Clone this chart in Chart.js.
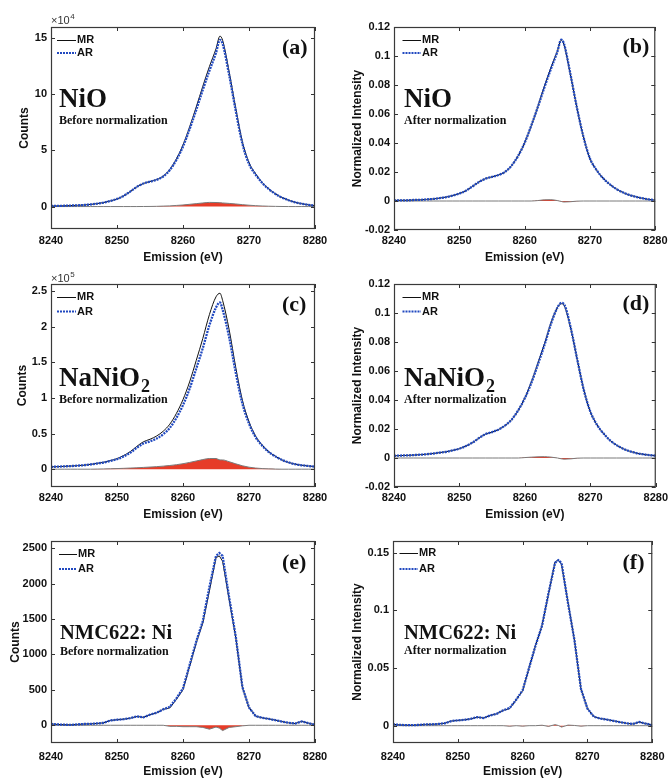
<!DOCTYPE html>
<html><head><meta charset="utf-8">
<script src="https://cdn.jsdelivr.net/npm/chart.js@4.4.1/dist/chart.umd.min.js"></script>
<style>
html,body{margin:0;padding:0;background:#fff;}
#wrap{position:relative;width:672px;height:778px;overflow:hidden;background:#fff;}
canvas{position:absolute;display:block;}
</style></head><body><div id="wrap">
<canvas id="pa" width="336" height="266" style="left:0;top:0"></canvas>
<canvas id="pb" width="336" height="266" style="left:336px;top:0"></canvas>
<canvas id="pc" width="336" height="256" style="left:0;top:266px"></canvas>
<canvas id="pd" width="336" height="256" style="left:336px;top:266px"></canvas>
<canvas id="pe" width="336" height="256" style="left:0;top:522px"></canvas>
<canvas id="pf" width="336" height="256" style="left:336px;top:522px"></canvas>
</div>
<script>
// ---------- data ----------
const energyTicks = [8240, 8250, 8260, 8270, 8280];
const energyAD = [8240,8241,8242,8243,8244,8245,8246,8247,8248,8249,8250,8251,8252,8253,8254,8255,8256,8257,8258,8259,8260,8261,8262,8263,8264,8265,8265.6,8266,8267,8268,8269,8270,8271,8272,8273,8274,8275,8276,8277,8278,8279,8280];
const energyEF = [8240,8241,8242,8243,8244,8245,8246,8247,8248,8249,8250,8251,8252,8253,8254,8255,8256,8257,8258,8259,8260,8261,8262,8263,8264,8265,8265.5,8266,8267,8268,8269,8270,8271,8272,8273,8274,8275,8276,8277,8278,8279,8280];

// (a) NiO, counts x1e4
const nioMR = [0.05,0.06,0.07,0.09,0.11,0.14,0.19,0.26,0.36,0.5,0.68,0.95,1.33,1.75,2.06,2.23,2.4,2.72,3.31,4.25,5.49,7.1,8.86,10.72,12.47,14.06,15.19,14.82,11.98,8.73,5.77,3.92,2.93,2.15,1.58,1.14,0.81,0.56,0.38,0.25,0.15,0.08];
const nioAR = [0.05,0.06,0.07,0.09,0.11,0.14,0.19,0.26,0.36,0.5,0.68,0.95,1.33,1.75,2.05,2.22,2.38,2.68,3.25,4.15,5.35,6.9,8.6,10.4,12.1,13.7,14.85,14.5,11.7,8.5,5.6,3.8,2.85,2.1,1.55,1.12,0.8,0.56,0.38,0.25,0.15,0.08];
const nioDiff = [0,0,0,0,0,0,0,0,0,0,0,0,0,0,0.005,0.01,0.02,0.04,0.06,0.1,0.14,0.2,0.26,0.32,0.37,0.36,0.34,0.32,0.28,0.23,0.17,0.12,0.08,0.05,0.03,0.015,0.005,0,0,0,0,0];
// (b) NiO normalized
const nioNormMR = [0.0004,0.0005,0.0005,0.0007,0.0008,0.0011,0.0014,0.002,0.0027,0.0038,0.0051,0.0071,0.01,0.0131,0.0154,0.0167,0.0179,0.0201,0.0244,0.0311,0.0401,0.0518,0.0648,0.0788,0.0917,0.1031,0.1109,0.1081,0.0873,0.0644,0.0443,0.0293,0.0214,0.0158,0.0116,0.0084,0.006,0.0042,0.0029,0.0019,0.0011,0.0006];
const nioNormAR = [0.0004,0.0005,0.0005,0.0007,0.0008,0.0011,0.0014,0.002,0.0027,0.0038,0.0051,0.0071,0.01,0.0131,0.0154,0.0167,0.0179,0.0201,0.0244,0.0311,0.0401,0.0518,0.0645,0.078,0.0908,0.1028,0.1112,0.1088,0.0878,0.0645,0.0443,0.0293,0.0214,0.0158,0.0116,0.0084,0.006,0.0042,0.0029,0.0019,0.0011,0.0006];
const nioNormDiff = [0,0,0,0,0,0,0,0,0,0,0,0,0,0,0,0,0,0,0,0,0,0,0.0003,0.0008,0.0009,0.0003,-0.0003,-0.0007,-0.0005,-0.0001,0,0,0,0,0,0,0,0,0,0,0,0];
// (c) NaNiO2, counts x1e5
const nanioMR = [0.033,0.036,0.04,0.044,0.05,0.056,0.067,0.082,0.098,0.121,0.149,0.192,0.246,0.32,0.385,0.42,0.466,0.533,0.632,0.783,0.977,1.225,1.525,1.835,2.17,2.42,2.47,2.37,1.955,1.425,0.968,0.668,0.466,0.339,0.245,0.182,0.13,0.095,0.07,0.055,0.045,0.036];
const nanioAR = [0.033,0.036,0.04,0.044,0.05,0.056,0.067,0.08,0.094,0.115,0.14,0.18,0.23,0.3,0.36,0.39,0.43,0.49,0.58,0.72,0.9,1.13,1.41,1.7,2.02,2.27,2.34,2.24,1.85,1.35,0.92,0.64,0.45,0.33,0.24,0.18,0.13,0.095,0.07,0.055,0.045,0.036];
const nanioDiff = [0,0,0,0,0,0,0,0.002,0.004,0.006,0.009,0.012,0.016,0.02,0.025,0.03,0.036,0.043,0.052,0.063,0.077,0.095,0.115,0.135,0.15,0.15,0.13,0.13,0.105,0.075,0.048,0.028,0.016,0.009,0.005,0.002,0,0,0,0,0,0];
// (d) NaNiO2 normalized
const nanioNormMR = [0.0015,0.0017,0.0018,0.002,0.0023,0.0026,0.0031,0.0037,0.0043,0.0053,0.0064,0.0083,0.0106,0.0138,0.0165,0.0179,0.0197,0.0225,0.0266,0.033,0.0416,0.0525,0.0655,0.0789,0.0933,0.104,0.1064,0.1052,0.0894,0.0679,0.047,0.032,0.023,0.017,0.0122,0.0089,0.0064,0.0047,0.0034,0.0026,0.002,0.0016];
const nanioNormAR = [0.0015,0.0017,0.0018,0.002,0.0023,0.0026,0.0031,0.0037,0.0043,0.0053,0.0064,0.0083,0.0106,0.0138,0.0165,0.0179,0.0197,0.0225,0.0266,0.033,0.0413,0.0519,0.0647,0.078,0.0927,0.104,0.107,0.106,0.09,0.068,0.047,0.032,0.023,0.017,0.0122,0.0089,0.0064,0.0047,0.0034,0.0026,0.002,0.0016];
const nanioNormDiff = [0,0,0,0,0,0,0,0,0,0,0,0,0,0,0,0,0,0,0,0,0.0003,0.0006,0.0008,0.0009,0.0006,0,-0.0006,-0.0008,-0.0006,-0.0001,0,0,0,0,0,0,0,0,0,0,0,0];
// (e) NMC622 Ni, counts
const nmcMR = [20,12,8,6,12,18,20,26,35,68,78,86,100,125,112,150,175,225,245,365,500,830,1160,1440,1895,2365,2390,2315,1770,1230,532,250,130,105,90,72,52,35,25,55,30,8];
const nmcAR = [20,12,8,6,12,18,20,26,35,68,78,86,100,125,112,150,175,225,260,380,520,850,1180,1470,1950,2390,2430,2390,1800,1250,540,250,130,105,90,72,52,35,25,55,30,8];
const nmcDiff = [0,0,0,0,0,0,0,0,0,0,0,0,0,0,0,0,0,0,-15,-15,-20,-20,-20,-30,-55,-25,-40,-75,-30,-20,-8,0,0,0,0,0,0,0,0,0,0,0];
// (f) NMC622 Ni normalized
const nmcNormMR = [0.0012,0.0007,0.0005,0.0004,0.0007,0.0011,0.0012,0.0015,0.0021,0.004,0.0046,0.0051,0.0059,0.0074,0.0066,0.0089,0.0103,0.0133,0.0148,0.0224,0.0303,0.0502,0.0696,0.0871,0.1144,0.1419,0.1436,0.1398,0.1067,0.074,0.0315,0.0148,0.0077,0.0062,0.0053,0.0042,0.0031,0.0021,0.0015,0.0032,0.0018,0.0005];
const nmcNormAR = [0.0012,0.0007,0.0005,0.0004,0.0007,0.0011,0.0012,0.0015,0.0021,0.004,0.0046,0.0051,0.0059,0.0074,0.0066,0.0089,0.0103,0.0133,0.0153,0.0224,0.0307,0.0502,0.0696,0.0867,0.115,0.141,0.1434,0.141,0.1062,0.0738,0.0319,0.0148,0.0077,0.0062,0.0053,0.0042,0.0031,0.0021,0.0015,0.0032,0.0018,0.0005];
const nmcNormDiff = [0,0,0,0,0,0,0,0,0,0,0,0,0,0,0,0,0,0,-0.0005,0,-0.0004,0,0,0.0004,-0.0006,0.0009,0.0002,-0.0012,0.0005,0.0002,-0.0004,0,0,0,0,0,0,0,0,0,0,0];

const ticksA = [0, 5, 10, 15];
const ticksB = [-0.02, 0, 0.02, 0.04, 0.06, 0.08, 0.1, 0.12];
const ticksC = [0, 0.5, 1, 1.5, 2, 2.5];
const ticksD = [-0.02, 0, 0.02, 0.04, 0.06, 0.08, 0.1, 0.12];
const ticksE = [0, 500, 1000, 1500, 2000, 2500];
const ticksF = [0, 0.05, 0.1, 0.15];

// ---------- style ----------
const SANS = '"Liberation Sans", Arial, sans-serif';
const SERIF = '"Liberation Serif", "Times New Roman", serif';
const BLUE = '#2149c0';
const RED = '#e63c28';
const INK = '#111';

const panelDecor = {
  id: 'panelDecor',
  afterDraw(chart, args, o) {
    const ctx = chart.ctx, ca = chart.chartArea;
    const xs = chart.scales.x, ys = chart.scales.y;
    ctx.save();
    ctx.strokeStyle = '#333'; ctx.lineWidth = 1;
    ctx.beginPath();
    const L = 4;
    xs.ticks.forEach(t => {
      const px = Math.round(xs.getPixelForValue(t.value)) + 0.5;
      ctx.moveTo(px, ca.bottom); ctx.lineTo(px, ca.bottom - L);
      ctx.moveTo(px, ca.top); ctx.lineTo(px, ca.top + L);
    });
    ys.ticks.forEach(t => {
      const py = Math.round(ys.getPixelForValue(t.value)) + 0.5;
      ctx.moveTo(ca.left, py); ctx.lineTo(ca.left + L, py);
      ctx.moveTo(ca.right, py); ctx.lineTo(ca.right - L, py);
    });
    ctx.stroke();
    ctx.strokeStyle = '#3a3a3a'; ctx.lineWidth = 1.2;
    ctx.strokeRect(ca.left + 0.5, ca.top + 0.5, ca.right - ca.left - 1, ca.bottom - ca.top - 1);
    // legend
    const lg = o.legend;
    ctx.lineWidth = 1; ctx.strokeStyle = INK; ctx.setLineDash([]);
    const ym = Math.round(lg.yMR) + 0.5;
    ctx.beginPath(); ctx.moveTo(lg.x1, ym); ctx.lineTo(lg.x2, ym); ctx.stroke();
    ctx.lineWidth = 2.2; ctx.strokeStyle = BLUE; ctx.setLineDash([2, 1]);
    ctx.beginPath(); ctx.moveTo(lg.x1, lg.yAR); ctx.lineTo(lg.x2, lg.yAR); ctx.stroke();
    ctx.setLineDash([]);
    ctx.fillStyle = INK; ctx.font = 'bold 11px ' + SANS; ctx.textBaseline = 'middle'; ctx.textAlign = 'left';
    ctx.fillText('MR', lg.x2 + 1, lg.yMR);
    ctx.fillText('AR', lg.x2 + 1, lg.yAR);
    // panel letter
    ctx.font = 'bold 22px ' + SERIF; ctx.textBaseline = 'middle';
    ctx.fillText(o.letter.text, o.letter.x, o.letter.y);
    // sample name
    ctx.textBaseline = 'alphabetic';
    ctx.font = 'bold ' + o.name.size + 'px ' + SERIF;
    ctx.fillText(o.name.text, o.name.x, o.name.y);
    if (o.name.sub) {
      const w = ctx.measureText(o.name.text).width;
      ctx.font = 'bold ' + Math.round(o.name.size * 0.66) + 'px ' + SERIF;
      ctx.fillText(o.name.sub, o.name.x + w + 1, o.name.y + 6);
    }
    ctx.font = 'bold 12px ' + SERIF;
    ctx.fillText(o.caption.text, o.caption.x, o.caption.y);
    if (o.exp) {
      ctx.font = '11px ' + SANS; ctx.fillStyle = '#333';
      ctx.fillText('\u00d710', o.exp.x, o.exp.y);
      const w = ctx.measureText('\u00d710').width;
      ctx.font = '8px ' + SANS;
      ctx.fillText(o.exp.pow, o.exp.x + w + 0.5, o.exp.y - 5);
    }
    ctx.restore();
  }
};

function makePanel(id, p) {
  const cv = document.getElementById(id);
  const W = cv.width, H = cv.height;
  const pts = arr => p.x.map((xv, i) => ({ x: xv, y: arr[i] }));
  const lineOpts = p.smooth ? { cubicInterpolationMode: 'monotone' } : { tension: 0 };
  return new Chart(cv, {
    type: 'line',
    data: { datasets: [
      Object.assign({ label: 'AR', data: pts(p.ar), borderColor: BLUE, borderWidth: 2.3, borderDash: [2, 1], pointRadius: 0, fill: false }, lineOpts),
      Object.assign({ label: 'MR', data: pts(p.mr), borderColor: INK, borderWidth: 1, pointRadius: 0, fill: false }, lineOpts),
      Object.assign({ label: 'MR-AR', data: pts(p.diff), borderColor: '#7a7a7a', borderWidth: 1, backgroundColor: RED, fill: 'origin', pointRadius: 0 }, lineOpts)
    ]},
    options: {
      responsive: false, animation: false, events: [],
      layout: { padding: { top: p.area.top, right: W - p.area.right, left: 0, bottom: 0 } },
      plugins: { legend: { display: false }, tooltip: { enabled: false }, panelDecor: p.decor },
      scales: {
        x: {
          type: 'linear', min: 8240, max: 8280,
          afterBuildTicks: s => { s.ticks = energyTicks.map(v => ({ value: v })); },
          afterFit: s => { s.height = H - p.area.bottom; },
          grid: { display: false, drawTicks: false }, border: { display: false },
          ticks: { padding: p.xLabelPad, color: INK, autoSkip: false, maxRotation: 0, font: { family: SANS, size: 11, weight: 'bold' }, callback: v => String(v) },
          title: { display: true, text: 'Emission (eV)', color: INK, font: { family: SANS, size: 12, weight: 'bold', lineHeight: 1 }, padding: { top: 0, bottom: p.xTitlePad } }
        },
        y: {
          type: 'linear', min: p.yMin, max: p.yMax,
          afterBuildTicks: s => { s.ticks = p.yTicks.map(v => ({ value: v })); },
          afterFit: s => { s.width = p.area.left; },
          grid: { display: false, drawTicks: false }, border: { display: false },
          ticks: { padding: 4, color: INK, font: { family: SANS, size: 11, weight: 'bold' }, callback: v => String(v) },
          title: { display: true, text: p.yTitle, color: INK, font: { family: SANS, size: 12, weight: 'bold', lineHeight: 1 }, padding: { top: p.yTitlePad, bottom: 0 } }
        }
      }
    },
    plugins: [panelDecor]
  });
}

makePanel('pa', { x: energyAD, mr: nioMR, ar: nioAR, diff: nioDiff, smooth: true,
  yMin: -2, yMax: 16, yTicks: ticksA, yTitle: 'Counts', yTitlePad: 19,
  area: { left: 51, top: 27, right: 315, bottom: 229 }, xLabelPad: 5, xTitlePad: 2,
  decor: { legend: { x1: 57, x2: 76, yMR: 40, yAR: 53 }, letter: { text: '(a)', x: 282, y: 48 },
    name: { text: 'NiO', x: 59, y: 107, size: 27 }, caption: { text: 'Before normalization', x: 59, y: 124 },
    exp: { x: 51, y: 24, pow: '4' } } });

makePanel('pb', { x: energyAD, mr: nioNormMR, ar: nioNormAR, diff: nioNormDiff, smooth: true,
  yMin: -0.02, yMax: 0.12, yTicks: ticksB, yTitle: 'Normalized Intensity', yTitlePad: 15.5,
  area: { left: 58, top: 27, right: 322, bottom: 230 }, xLabelPad: 4.5, xTitlePad: 2,
  decor: { legend: { x1: 66.5, x2: 85, yMR: 40, yAR: 53 }, letter: { text: '(b)', x: 286.5, y: 47 },
    name: { text: 'NiO', x: 68, y: 107, size: 27 }, caption: { text: 'After normalization', x: 68, y: 124 } } });

makePanel('pc', { x: energyAD, mr: nanioMR, ar: nanioAR, diff: nanioDiff, smooth: true,
  yMin: -0.25, yMax: 2.6, yTicks: ticksC, yTitle: 'Counts', yTitlePad: 17,
  area: { left: 51, top: 18, right: 315, bottom: 221 }, xLabelPad: 4, xTitlePad: 1,
  decor: { legend: { x1: 57, x2: 76, yMR: 31, yAR: 45.5 }, letter: { text: '(c)', x: 282, y: 39 },
    name: { text: 'NaNiO', sub: '2', x: 59, y: 119.5, size: 27 }, caption: { text: 'Before normalization', x: 59, y: 136.5 },
    exp: { x: 51, y: 15.5, pow: '5' } } });

makePanel('pd', { x: energyAD, mr: nanioNormMR, ar: nanioNormAR, diff: nanioNormDiff, smooth: true,
  yMin: -0.02, yMax: 0.12, yTicks: ticksD, yTitle: 'Normalized Intensity', yTitlePad: 15.5,
  area: { left: 58, top: 18, right: 322, bottom: 221 }, xLabelPad: 4, xTitlePad: 1,
  decor: { legend: { x1: 66.5, x2: 85, yMR: 31, yAR: 45.5 }, letter: { text: '(d)', x: 286.5, y: 38.5 },
    name: { text: 'NaNiO', sub: '2', x: 68, y: 119.5, size: 27 }, caption: { text: 'After normalization', x: 68, y: 137 } } });

makePanel('pe', { x: energyEF, mr: nmcMR, ar: nmcAR, diff: nmcDiff, smooth: false,
  yMin: -250, yMax: 2600, yTicks: ticksE, yTitle: 'Counts', yTitlePad: 9.5,
  area: { left: 51, top: 19, right: 315, bottom: 221 }, xLabelPad: 7.5, xTitlePad: 0.3,
  decor: { legend: { x1: 59, x2: 77, yMR: 32, yAR: 47 }, letter: { text: '(e)', x: 282, y: 41 },
    name: { text: 'NMC622: Ni', x: 60, y: 117, size: 20.5 }, caption: { text: 'Before normalization', x: 60, y: 132.5 } } });

makePanel('pf', { x: energyEF, mr: nmcNormMR, ar: nmcNormAR, diff: nmcNormDiff, smooth: false,
  yMin: -0.015, yMax: 0.16, yTicks: ticksF, yTitle: 'Normalized Intensity', yTitlePad: 16,
  area: { left: 57, top: 19, right: 322, bottom: 221 }, xLabelPad: 7.5, xTitlePad: 0.3,
  decor: { legend: { x1: 63.5, x2: 82, yMR: 31, yAR: 47 }, letter: { text: '(f)', x: 286.5, y: 41 },
    name: { text: 'NMC622: Ni', x: 68, y: 117, size: 20.5 }, caption: { text: 'After normalization', x: 68, y: 132 } } });
</script>
</body></html>
